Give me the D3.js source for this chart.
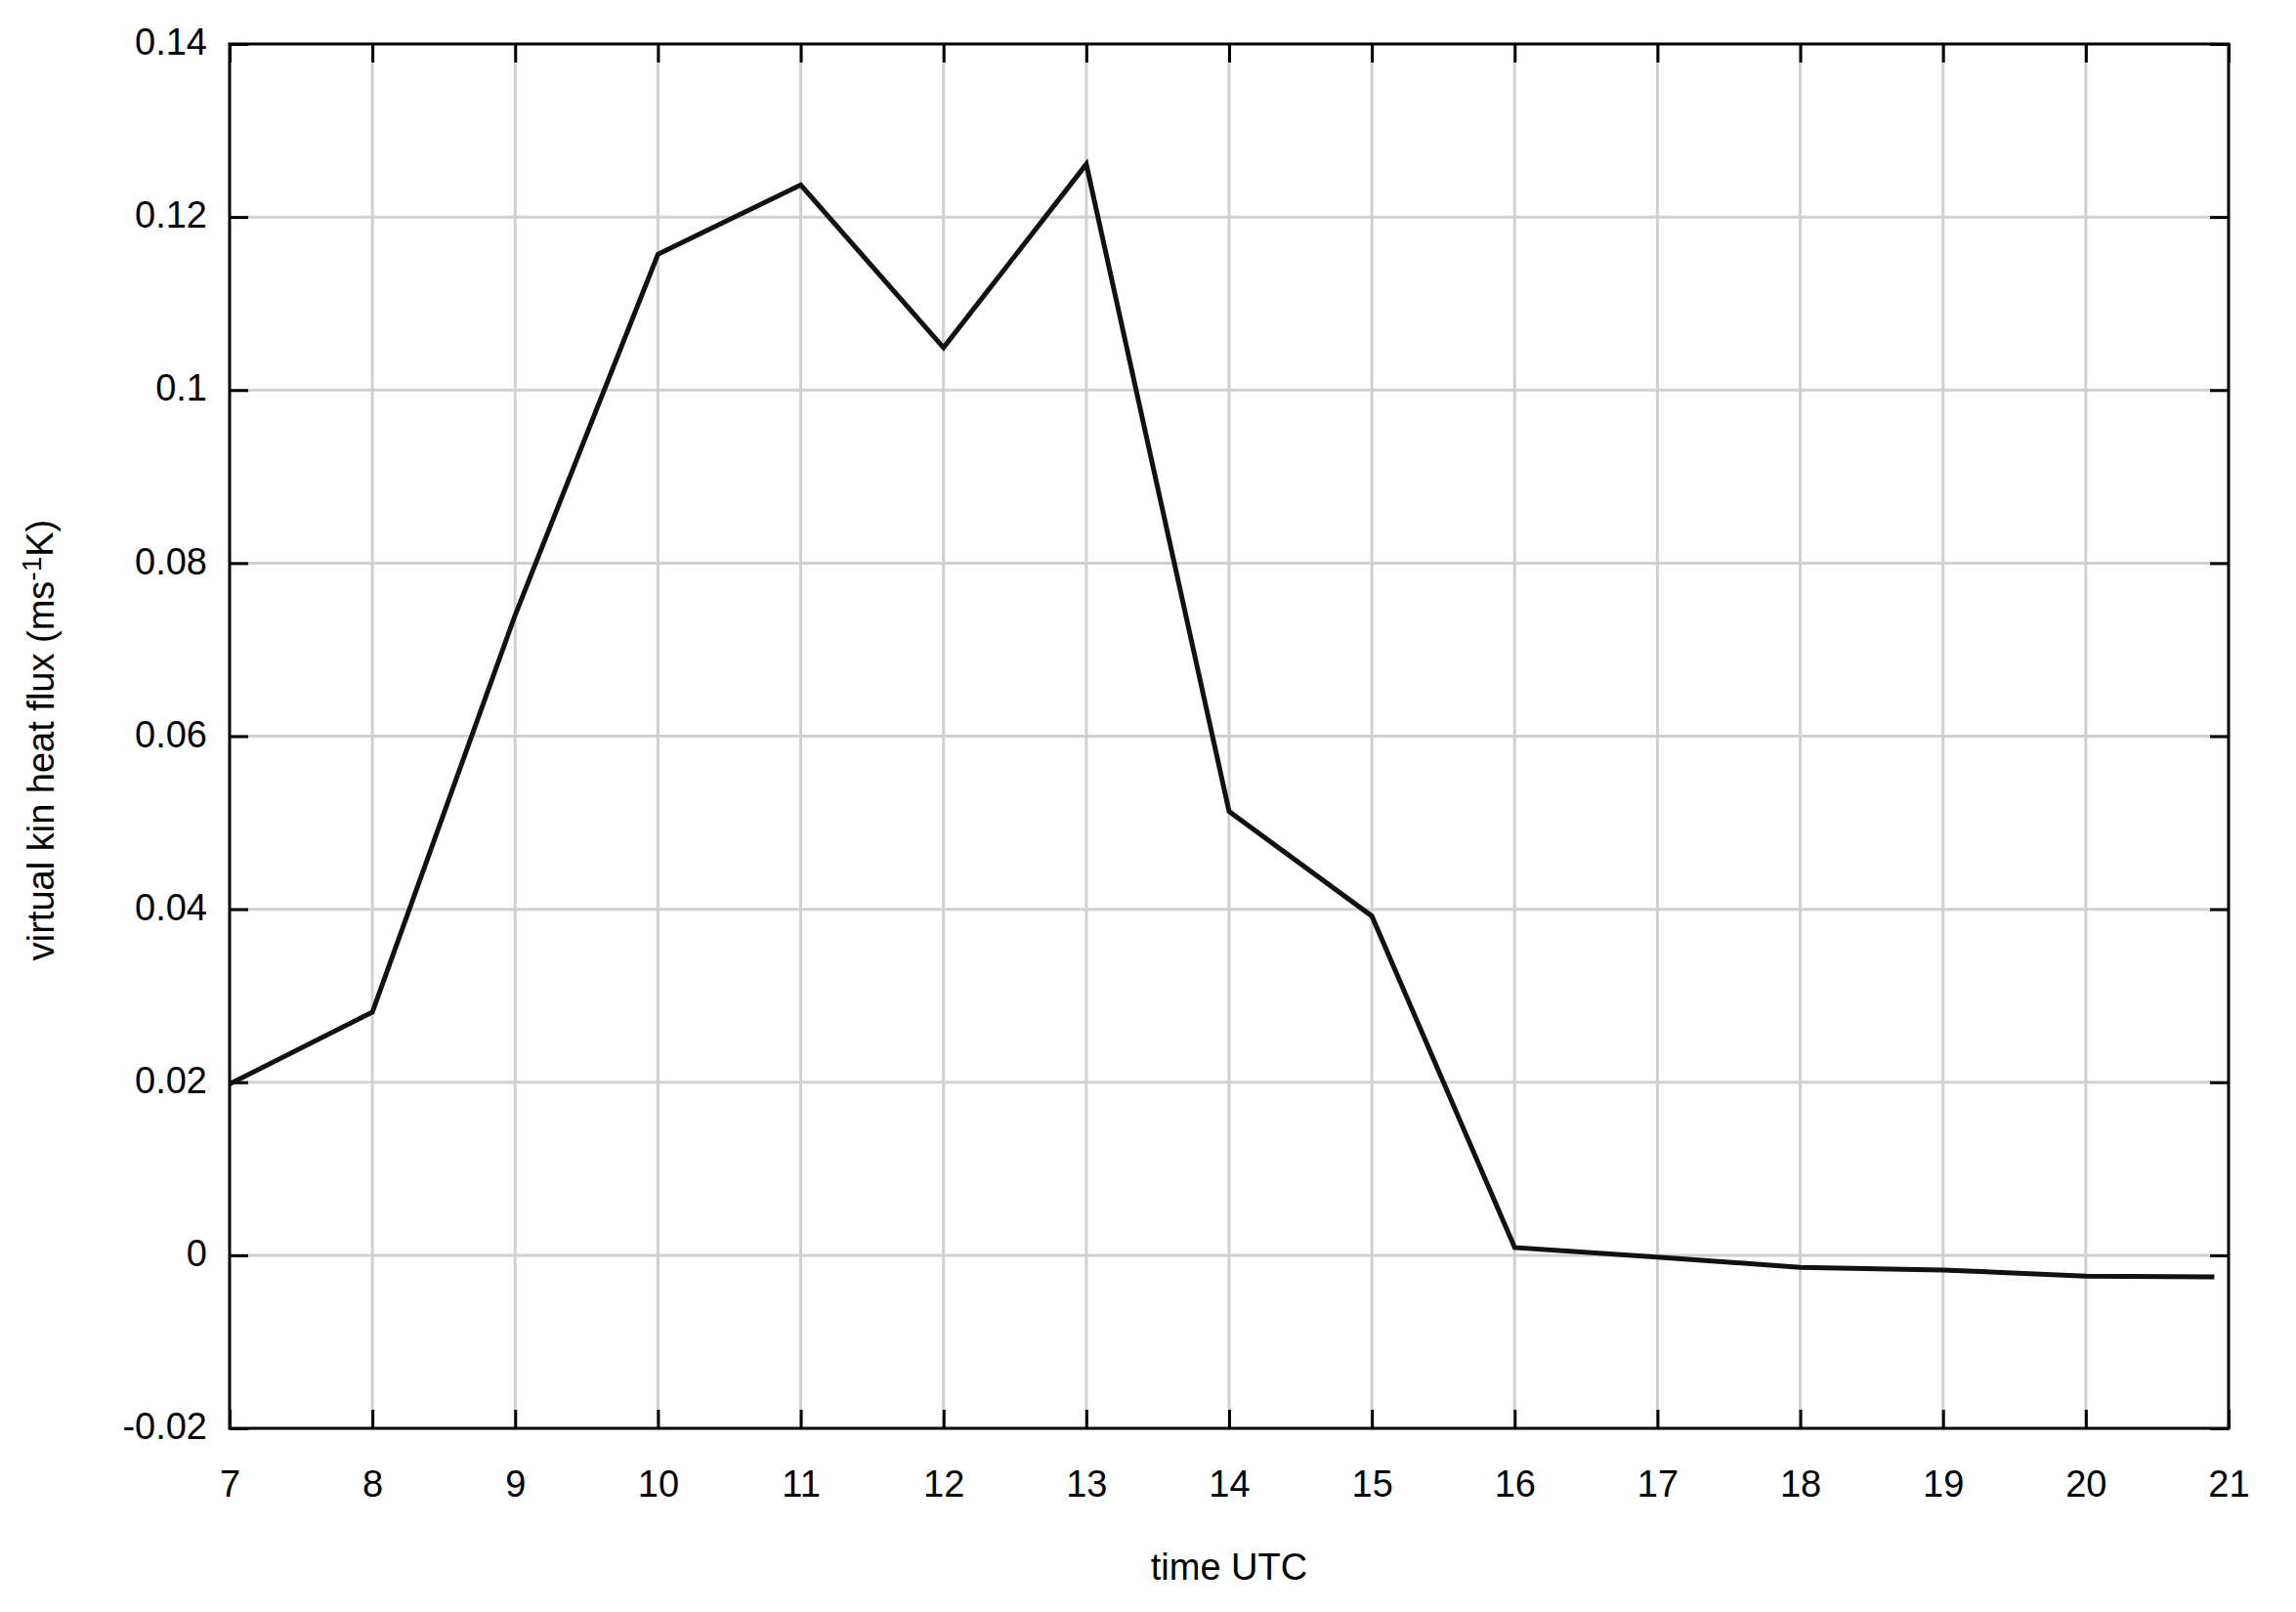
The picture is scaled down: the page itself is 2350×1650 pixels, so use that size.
<!DOCTYPE html>
<html>
    <head>
        <script src="https://cdn.jsdelivr.net/npm/d3@7"></script>
        <style>
            body { margin: 0; background: #fff; }
            text { font-family: "Liberation Sans", Arial, Helvetica, sans-serif; fill: #000; }
        </style>
    </head>
    <body>
        <svg id="chart" width=2350 height=1650></svg>
        <script>
            // Data
            var times = [7, 8, 9, 10, 11, 12, 13, 14, 15, 16, 17, 18, 19, 20, 20.9];
            var flux = [0.0198, 0.0281, 0.0740, 0.1157, 0.1237, 0.1049, 0.1261, 0.0513, 0.0392, 0.0009, -0.0002, -0.0014, -0.0017, -0.0024, -0.0025];
            var xTicks = [7, 8, 9, 10, 11, 12, 13, 14, 15, 16, 17, 18, 19, 20, 21];
            var yTicks = [-0.02, 0, 0.02, 0.04, 0.06, 0.08, 0.1, 0.12, 0.14];
            var yTickLabels = ["-0.02", "0", "0.02", "0.04", "0.06", "0.08", "0.1", "0.12", "0.14"];

            // Initialize Variables
            var margin = {left: 235, right: 69, top: 45, bottom: 188};
            var width = 2350 - margin.left - margin.right;
            var height = 1650 - margin.top - margin.bottom;

            var svg = d3.select("svg#chart").append("g").attr("transform", "translate(" + margin.left + "," + margin.top + ")");

            var x = d3.scaleLinear().domain([7, 21]).range([0, width]);
            var y = d3.scaleLinear().domain([-0.02, 0.14]).range([height, 0]);

            // Grid
            svg.append("g").selectAll("line.vgrid").data(xTicks.slice(1, -1)).enter().append("line")
                .attr("x1", function(d) { return x(d); }).attr("x2", function(d) { return x(d); })
                .attr("y1", 0).attr("y2", height)
                .attr("stroke", "#d0d0d0").attr("stroke-width", 3);
            svg.append("g").selectAll("line.hgrid").data(yTicks.slice(1, -1)).enter().append("line")
                .attr("x1", 0).attr("x2", width)
                .attr("y1", function(d) { return y(d); }).attr("y2", function(d) { return y(d); })
                .attr("stroke", "#d0d0d0").attr("stroke-width", 3);

            // Axes (ticks inward on all four sides)
            var tickLen = 19;
            var xAxis = d3.axisBottom(x).tickValues(xTicks).tickFormat(d3.format("d")).tickSize(-tickLen).tickPadding(43);
            var xAxisTop = d3.axisTop(x).tickValues(xTicks).tickSize(-tickLen).tickFormat("");
            var yAxis = d3.axisLeft(y).tickValues(yTicks).tickFormat(function(d, i) { return yTickLabels[i]; }).tickSize(-tickLen).tickPadding(23);
            var yAxisRight = d3.axisRight(y).tickValues(yTicks).tickSize(-tickLen).tickFormat("");

            [svg.append("g").attr("transform", "translate(0," + height + ")").call(xAxis),
             svg.append("g").call(xAxisTop),
             svg.append("g").attr("class", "yaxis").call(yAxis),
             svg.append("g").attr("transform", "translate(" + width + ",0)").call(yAxisRight)
            ].forEach(function(g) {
                g.attr("font-family", null).attr("font-size", null);
                g.select(".domain").remove();
                g.selectAll(".tick line").attr("stroke", "#000").attr("stroke-width", 3);
                g.selectAll(".tick text").style("font-size", "38px").attr("fill", "#000");
            });

            // y tick labels sit slightly above tick
            svg.selectAll("g.yaxis .tick text").attr("dy", "0.28em");

            // Frame
            svg.append("rect").attr("x", 0).attr("y", 0).attr("width", width).attr("height", height)
                .attr("fill", "none").attr("stroke", "#000").attr("stroke-width", 3);

            // Line
            var pts = times.map(function(t, i) { return [t, flux[i]]; });
            svg.append("path").datum(pts).attr("fill", "none").attr("stroke", "#111").attr("stroke-width", 5)
                .attr("stroke-linejoin", "miter")
                .attr("d", d3.line().x(function(d) { return x(d[0]); }).y(function(d) { return y(d[1]); }));

            // Labels
            svg.append("text").attr("x", width / 2).attr("y", height + 155).attr("text-anchor", "middle")
                .style("font-size", "38px").text("time UTC");

            var yl = svg.append("text").attr("transform", "translate(" + (55 - margin.left) + "," + (height / 2 + 4) + ") rotate(-90)")
                .attr("text-anchor", "middle").style("font-size", "38px");
            yl.append("tspan").text("virtual kin heat flux (ms");
            yl.append("tspan").attr("dy", "-0.45em").style("font-size", "28px").text("-1");
            yl.append("tspan").attr("dy", "0.3em").text("K)");
        </script>
    </body>
</html>
